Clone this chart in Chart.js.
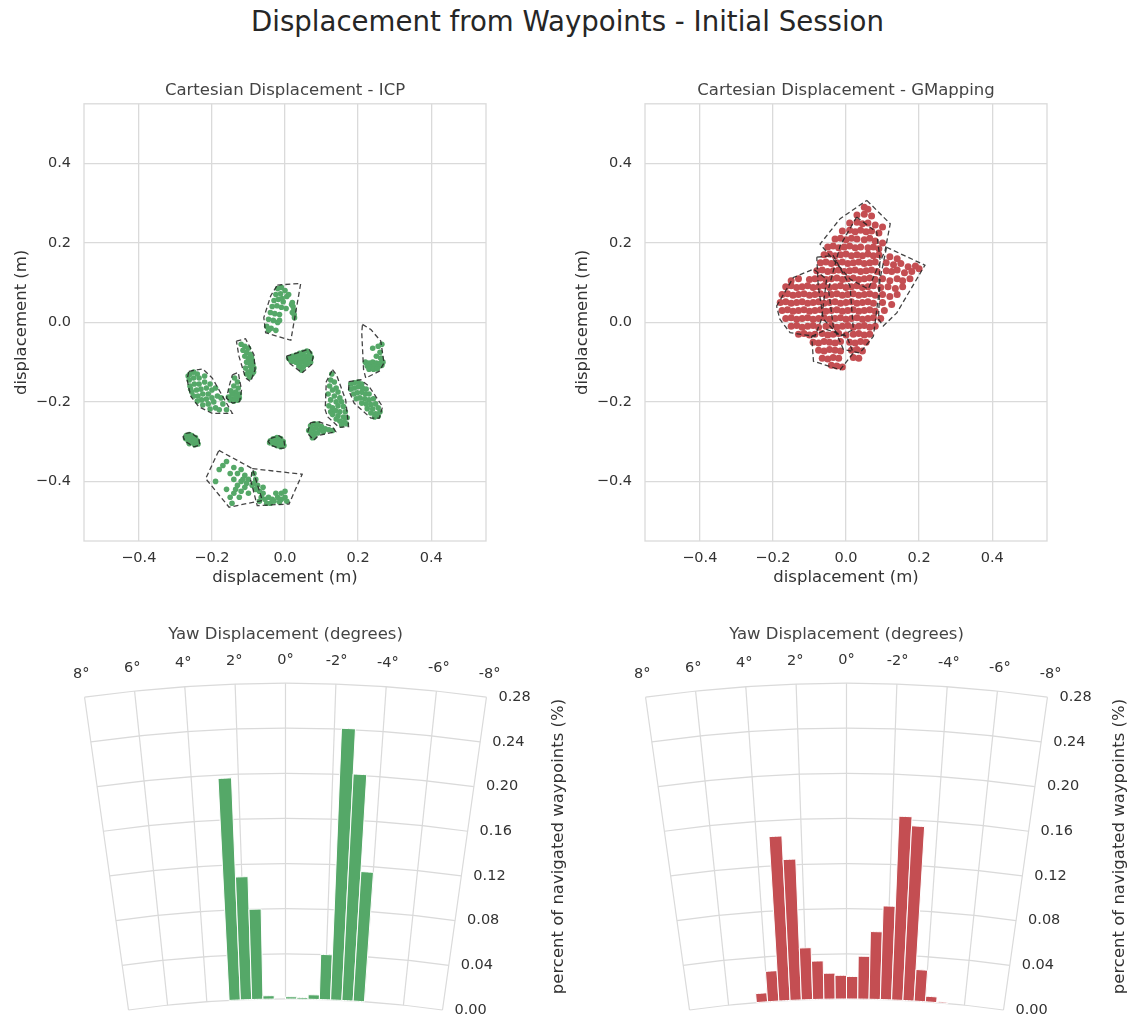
<!DOCTYPE html>
<html>
<head>
<meta charset="utf-8">
<title>Displacement from Waypoints - Initial Session</title>
<script src="https://cdn.jsdelivr.net/npm/chart.js@4.4.1/dist/chart.umd.min.js"></script>
<style>
  html, body { margin: 0; padding: 0; background: #ffffff; }
  body { width: 1135px; height: 1020px; position: relative; overflow: hidden; font-family: 'DejaVu Sans', sans-serif; }
  canvas { position: absolute; }
  #suptitle { position: absolute; left: 0; top: 5px; width: 1135px; text-align: center;
              font-size: 27.6px; line-height: 34px; color: #262626; }
</style>
</head>
<body>
<div id="suptitle">Displacement from Waypoints - Initial Session</div>
<canvas id="icpXY" width="520" height="530" style="left:0;top:70px"></canvas>
<canvas id="gmXY" width="520" height="530" style="left:561px;top:70px"></canvas>
<canvas id="icpYaw" width="574" height="420" style="left:0;top:600px"></canvas>
<canvas id="gmYaw" width="574" height="420" style="left:561px;top:600px"></canvas>
<script>
// ---------------------------------------------------------------------------
// Cartesian displacement axes
const xyTicks = [-0.4, -0.2, 0.0, 0.2, 0.4];
const xyLimit = 0.55;

// ICP: displacement samples (x, y in metres), grouped per waypoint
const icpPoints = [
  // waypoint near (0.0, 0.05)
  [-0.02,0.085],[-0.01,0.088],[0.000,0.08],[-0.025,0.07],[-0.012,0.072],[0.005,0.065],[-0.03,0.055],[-0.018,0.058],
  [-0.005,0.052],[-0.035,0.04],[-0.022,0.042],[-0.01,0.038],[0.003,0.035],[-0.04,0.025],[-0.028,0.022],[-0.015,0.02],
  [-0.045,0.008],[-0.032,0.005],[-0.02,0.0],[-0.05,-0.01],[-0.038,-0.015],[-0.025,-0.02],[-0.045,-0.02],[0.02,0.05],
  [0.022,0.04],[0.024,0.03],[0.025,0.02],[0.026,0.012],[0.018,0.045],[0.02,0.025],[-0.008,0.06],[0.01,0.07],[-0.015,0.005],
  // (0.04, -0.09)
  [0.01,-0.09],[0.02,-0.085],[0.03,-0.082],[0.04,-0.078],[0.05,-0.075],[0.06,-0.072],[0.068,-0.078],[0.072,-0.088],
  [0.07,-0.1],[0.06,-0.105],[0.05,-0.112],[0.045,-0.12],[0.038,-0.11],[0.03,-0.1],[0.02,-0.098],[0.015,-0.095],
  [0.025,-0.09],[0.035,-0.092],[0.045,-0.095],[0.055,-0.09],[0.062,-0.085],[0.065,-0.095],[0.055,-0.1],[0.042,-0.102],
  [0.05,-0.083],[0.04,-0.088],
  // (-0.1, -0.1)
  [-0.11,-0.06],[-0.1,-0.065],[-0.105,-0.075],[-0.095,-0.08],[-0.1,-0.09],[-0.09,-0.095],[-0.098,-0.1],[-0.088,-0.105],
  [-0.095,-0.11],[-0.085,-0.115],[-0.092,-0.12],[-0.1,-0.125],[-0.09,-0.13],[-0.097,-0.138],[-0.105,-0.13],[-0.108,-0.115],
  [-0.105,-0.1],[-0.11,-0.085],[-0.115,-0.07],[-0.12,-0.055],[-0.092,-0.088],[-0.086,-0.125],
  // (-0.23, -0.17)
  [-0.26,-0.13],[-0.25,-0.125],[-0.24,-0.13],[-0.262,-0.145],[-0.25,-0.14],[-0.235,-0.14],[-0.22,-0.135],[-0.26,-0.16],
  [-0.248,-0.155],[-0.235,-0.155],[-0.22,-0.15],[-0.255,-0.175],[-0.242,-0.17],[-0.23,-0.168],[-0.215,-0.165],[-0.25,-0.185],
  [-0.238,-0.185],[-0.225,-0.18],[-0.21,-0.18],[-0.24,-0.198],[-0.228,-0.195],[-0.215,-0.193],[-0.2,-0.19],[-0.225,-0.208],
  [-0.21,-0.205],[-0.195,-0.2],[-0.205,-0.218],[-0.19,-0.215],[-0.18,-0.22],[-0.2,-0.17],[-0.185,-0.185],[-0.19,-0.165],
  [-0.205,-0.155],[-0.16,-0.22],[-0.17,-0.205],[-0.175,-0.19],[-0.265,-0.135],[-0.258,-0.168],
  // (-0.14, -0.18)
  [-0.138,-0.14],[-0.13,-0.15],[-0.14,-0.16],[-0.128,-0.165],[-0.135,-0.175],[-0.145,-0.18],[-0.125,-0.18],[-0.155,-0.188],
  [-0.145,-0.192],[-0.135,-0.19],[-0.125,-0.19],[-0.14,-0.198],[-0.13,-0.196],[-0.15,-0.195],[-0.133,-0.185],[-0.148,-0.172],
  // (-0.26, -0.3)
  [-0.27,-0.285],[-0.262,-0.282],[-0.255,-0.285],[-0.245,-0.29],[-0.24,-0.298],[-0.238,-0.306],[-0.247,-0.308],[-0.255,-0.302],
  [-0.265,-0.298],[-0.272,-0.292],[-0.26,-0.293],[-0.25,-0.298],[-0.262,-0.305],[-0.248,-0.295],
  // (-0.02, -0.3)
  [-0.04,-0.298],[-0.032,-0.293],[-0.022,-0.29],[-0.012,-0.292],[-0.005,-0.3],[-0.003,-0.31],[-0.012,-0.313],[-0.022,-0.31],
  [-0.032,-0.306],[-0.042,-0.303],[-0.025,-0.3],[-0.015,-0.302],[-0.035,-0.3],
  // (0.09, -0.27)
  [0.07,-0.26],[0.08,-0.255],[0.09,-0.256],[0.1,-0.262],[0.065,-0.272],[0.075,-0.268],[0.085,-0.265],[0.095,-0.27],
  [0.11,-0.268],[0.12,-0.27],[0.13,-0.272],[0.072,-0.28],[0.082,-0.278],[0.09,-0.278],[0.08,-0.288],[0.105,-0.275],[0.075,-0.29],
  // (0.14, -0.2)
  [0.128,-0.13],[0.125,-0.145],[0.135,-0.15],[0.122,-0.16],[0.14,-0.165],[0.13,-0.17],[0.145,-0.175],[0.118,-0.18],
  [0.135,-0.185],[0.15,-0.19],[0.125,-0.195],[0.14,-0.2],[0.155,-0.2],[0.12,-0.21],[0.13,-0.215],[0.145,-0.21],
  [0.16,-0.212],[0.125,-0.225],[0.138,-0.222],[0.15,-0.225],[0.165,-0.225],[0.13,-0.232],[0.145,-0.235],[0.16,-0.238],
  [0.17,-0.24],[0.15,-0.248],[0.162,-0.25],[0.155,-0.258],[0.168,-0.255],[0.14,-0.243],
  // (0.22, -0.19)
  [0.18,-0.155],[0.19,-0.152],[0.2,-0.15],[0.21,-0.155],[0.18,-0.168],[0.19,-0.165],[0.2,-0.162],[0.212,-0.165],
  [0.222,-0.168],[0.188,-0.18],[0.198,-0.177],[0.21,-0.176],[0.22,-0.18],[0.23,-0.18],[0.195,-0.192],[0.205,-0.19],
  [0.218,-0.192],[0.23,-0.195],[0.242,-0.192],[0.21,-0.203],[0.222,-0.205],[0.235,-0.207],[0.248,-0.205],[0.225,-0.217],
  [0.24,-0.218],[0.255,-0.215],[0.235,-0.228],[0.248,-0.23],[0.26,-0.225],[0.245,-0.238],[0.255,-0.236],
  // (0.24, -0.08)
  [0.255,-0.06],[0.26,-0.075],[0.25,-0.085],[0.262,-0.09],[0.22,-0.1],[0.23,-0.102],[0.24,-0.1],[0.25,-0.102],
  [0.26,-0.103],[0.268,-0.1],[0.225,-0.11],[0.235,-0.112],[0.245,-0.11],[0.255,-0.112],[0.265,-0.108],[0.23,-0.118],
  [0.242,-0.118],[0.252,-0.117],[0.24,-0.065],[0.265,-0.055],
  // (-0.14, -0.4)
  [-0.17,-0.36],[-0.16,-0.35],[-0.14,-0.365],[-0.12,-0.37],[-0.15,-0.38],[-0.13,-0.38],[-0.11,-0.385],[-0.14,-0.395],
  [-0.12,-0.4],[-0.1,-0.395],[-0.13,-0.41],[-0.11,-0.415],[-0.09,-0.41],[-0.12,-0.425],[-0.1,-0.43],[-0.14,-0.43],
  [-0.15,-0.44],[-0.125,-0.44],[-0.16,-0.42],[-0.19,-0.4],[-0.18,-0.37],[-0.145,-0.455],[-0.105,-0.405],[-0.115,-0.395],[-0.135,-0.42],
  // (-0.04, -0.43)
  [-0.085,-0.38],[-0.08,-0.395],[-0.075,-0.41],[-0.085,-0.405],[-0.07,-0.425],[-0.06,-0.43],[-0.065,-0.44],[-0.055,-0.445],
  [-0.045,-0.44],[-0.035,-0.445],[-0.07,-0.45],[-0.05,-0.455],[-0.04,-0.455],[-0.03,-0.45],[-0.02,-0.44],[-0.01,-0.445],
  [0.0,-0.44],[0.005,-0.45],[-0.015,-0.452],[-0.01,-0.43],[0.0,-0.425],[-0.025,-0.43],[-0.06,-0.415],[-0.08,-0.42]
];

// ICP: convex hull of each waypoint's samples
const icpHulls = [
  [[-0.021,0.094],[0.043,0.098],[0.016,-0.045],[-0.053,-0.026],[-0.058,0.012],[-0.039,0.067]],
  [[0.004,-0.085],[0.066,-0.067],[0.077,-0.085],[0.073,-0.106],[0.047,-0.127],[0.011,-0.102]],
  [[-0.133,-0.047],[-0.108,-0.041],[-0.085,-0.081],[-0.082,-0.119],[-0.094,-0.149],[-0.108,-0.140],[-0.126,-0.085]],
  [[-0.263,-0.123],[-0.225,-0.117],[-0.199,-0.140],[-0.144,-0.229],[-0.199,-0.229],[-0.236,-0.212],[-0.258,-0.186],[-0.268,-0.144]],
  [[-0.144,-0.132],[-0.128,-0.126],[-0.119,-0.170],[-0.124,-0.199],[-0.144,-0.203],[-0.160,-0.191],[-0.153,-0.161]],
  [[-0.272,-0.279],[-0.258,-0.277],[-0.236,-0.292],[-0.233,-0.309],[-0.249,-0.313],[-0.272,-0.300],[-0.279,-0.288]],
  [[-0.039,-0.292],[-0.016,-0.285],[-0.003,-0.295],[0.000,-0.316],[-0.016,-0.317],[-0.039,-0.309],[-0.046,-0.299]],
  [[0.070,-0.252],[0.093,-0.250],[0.130,-0.262],[0.139,-0.275],[0.093,-0.284],[0.079,-0.296],[0.061,-0.279]],
  [[0.130,-0.119],[0.141,-0.132],[0.166,-0.195],[0.174,-0.262],[0.148,-0.264],[0.116,-0.237],[0.110,-0.220],[0.113,-0.149]],
  [[0.175,-0.149],[0.207,-0.144],[0.230,-0.161],[0.267,-0.212],[0.258,-0.241],[0.235,-0.241],[0.189,-0.203],[0.174,-0.170]],
  [[0.212,-0.005],[0.235,-0.018],[0.262,-0.047],[0.271,-0.102],[0.258,-0.123],[0.221,-0.140],[0.215,-0.119],[0.210,-0.026]],
  [[-0.181,-0.322],[-0.089,-0.368],[-0.062,-0.448],[-0.153,-0.465],[-0.217,-0.393]],
  [[-0.089,-0.368],[0.047,-0.382],[0.011,-0.457],[-0.076,-0.461],[-0.094,-0.397]]
];

// GMapping: displacement samples (x, y in metres)
const gmPoints = [
  [0.05,0.29],[0.06,0.285],
  [0.03,0.27],[0.05,0.272],[0.07,0.268],
  [0.01,0.25],[0.03,0.252],[0.045,0.248],[0.06,0.25],[0.08,0.245],[0.1,0.24],
  [-0.01,0.23],[0.01,0.232],[0.025,0.228],[0.04,0.232],[0.055,0.228],[0.07,0.23],[0.09,0.225],
  [-0.03,0.21],[-0.015,0.212],[0.0,0.208],[0.015,0.212],[0.03,0.21],[0.05,0.208],[0.065,0.212],[0.08,0.205],[0.1,0.2],
  [-0.05,0.19],[-0.035,0.192],[-0.02,0.188],[-0.005,0.19],[0.01,0.192],[0.025,0.188],[0.04,0.19],[0.06,0.188],[0.075,0.19],[0.09,0.185],
  [-0.06,0.17],[-0.045,0.172],[-0.03,0.168],[-0.015,0.17],[0.0,0.172],[0.015,0.168],[0.03,0.17],[0.045,0.168],[0.06,0.172],
  [0.075,0.168],[0.09,0.17],[0.12,0.165],[0.14,0.16],
  [-0.07,0.15],[-0.055,0.152],[-0.04,0.148],[-0.025,0.15],[-0.01,0.152],[0.005,0.148],[0.02,0.15],[0.035,0.152],[0.05,0.148],
  [0.065,0.15],[0.08,0.152],[0.11,0.15],[0.13,0.145],[0.15,0.148],[0.17,0.14],[0.19,0.142],
  [-0.08,0.13],[-0.065,0.132],[-0.05,0.128],[-0.035,0.13],[-0.02,0.132],[-0.005,0.128],[0.01,0.13],[0.025,0.132],[0.04,0.128],
  [0.055,0.13],[0.07,0.132],[0.085,0.128],[0.11,0.13],[0.125,0.128],[0.14,0.132],[0.16,0.125],[0.18,0.128],[0.2,0.135],
  [-0.15,0.105],[-0.13,0.11],[-0.1,0.108],[-0.085,0.11],[-0.07,0.112],[-0.055,0.108],[-0.04,0.11],[-0.025,0.112],[-0.01,0.108],
  [0.005,0.11],[0.02,0.112],[0.035,0.108],[0.05,0.11],[0.065,0.112],[0.08,0.108],[0.1,0.11],[0.12,0.105],[0.14,0.11],[0.155,0.105],[0.175,0.11],
  [-0.165,0.09],[-0.15,0.092],[-0.135,0.088],[-0.12,0.09],[-0.105,0.092],[-0.09,0.088],[-0.075,0.09],[-0.06,0.092],[-0.045,0.088],
  [-0.03,0.09],[-0.015,0.092],[0.0,0.088],[0.015,0.09],[0.03,0.092],[0.045,0.088],[0.06,0.09],[0.075,0.092],[0.095,0.088],
  [0.115,0.09],[0.135,0.085],[0.155,0.09],
  [-0.175,0.07],[-0.16,0.072],[-0.145,0.068],[-0.13,0.07],[-0.115,0.072],[-0.1,0.068],[-0.085,0.07],[-0.07,0.072],[-0.055,0.068],
  [-0.04,0.07],[-0.025,0.072],[-0.01,0.068],[0.005,0.07],[0.02,0.072],[0.035,0.068],[0.05,0.07],[0.065,0.072],[0.08,0.068],
  [0.1,0.07],[0.12,0.065],[0.14,0.07],
  [-0.18,0.05],[-0.165,0.052],[-0.15,0.048],[-0.135,0.05],[-0.12,0.052],[-0.105,0.048],[-0.09,0.05],[-0.075,0.052],[-0.06,0.048],
  [-0.045,0.05],[-0.03,0.052],[-0.015,0.048],[0.0,0.05],[0.015,0.052],[0.03,0.048],[0.045,0.05],[0.06,0.052],[0.075,0.048],
  [0.1,0.05],[0.125,0.045],
  [-0.175,0.03],[-0.16,0.032],[-0.145,0.028],[-0.13,0.03],[-0.115,0.032],[-0.1,0.028],[-0.085,0.03],[-0.07,0.032],[-0.055,0.028],
  [-0.04,0.03],[-0.025,0.032],[-0.01,0.028],[0.005,0.03],[0.02,0.032],[0.035,0.028],[0.05,0.03],[0.065,0.032],[0.08,0.028],[0.105,0.03],
  [-0.165,0.01],[-0.15,0.012],[-0.135,0.008],[-0.12,0.01],[-0.105,0.012],[-0.09,0.008],[-0.075,0.01],[-0.06,0.012],[-0.045,0.008],
  [-0.03,0.01],[-0.015,0.012],[0.0,0.008],[0.015,0.01],[0.03,0.012],[0.045,0.008],[0.06,0.01],[0.075,0.012],[0.095,0.01],
  [-0.15,-0.01],[-0.135,-0.008],[-0.12,-0.012],[-0.105,-0.01],[-0.09,-0.008],[-0.075,-0.012],[-0.055,-0.01],[-0.04,-0.008],
  [-0.025,-0.012],[-0.01,-0.01],[0.005,-0.008],[0.02,-0.012],[0.035,-0.01],[0.05,-0.008],[0.065,-0.012],[0.08,-0.01],
  [-0.13,-0.03],[-0.115,-0.028],[-0.1,-0.032],[-0.085,-0.03],[-0.065,-0.028],[-0.05,-0.032],[-0.035,-0.03],[-0.02,-0.028],
  [0.0,-0.032],[0.02,-0.03],[0.035,-0.028],[0.05,-0.032],[0.065,-0.03],
  [-0.09,-0.05],[-0.075,-0.052],[-0.06,-0.048],[-0.045,-0.05],[-0.03,-0.052],[-0.015,-0.048],[0.01,-0.05],[0.025,-0.052],[0.04,-0.048],[0.055,-0.05],
  [-0.075,-0.07],[-0.06,-0.072],[-0.045,-0.068],[-0.03,-0.07],[-0.015,-0.072],[0.015,-0.07],[0.03,-0.068],[0.045,-0.072],
  [-0.065,-0.09],[-0.05,-0.092],[-0.035,-0.088],[-0.02,-0.09],[0.02,-0.088],[0.035,-0.09],
  [-0.04,-0.108],[-0.025,-0.11],[-0.01,-0.112]
];

// GMapping: convex hull of each waypoint's samples
const gmHulls = [
  [[0.057,0.307],[0.121,0.248],[0.107,0.181],[0.061,0.084],[0.011,0.109],[-0.044,0.168],[-0.071,0.197],[-0.016,0.261]],
  [[0.111,0.189],[0.216,0.144],[0.139,0.024],[0.102,-0.009],[0.089,0.008],[0.093,0.109]],
  [[-0.190,0.041],[-0.144,0.113],[-0.089,0.134],[-0.053,0.109],[-0.067,0.008],[-0.085,-0.035],[-0.153,-0.026],[-0.181,0.008]],
  [[0.029,0.265],[0.084,0.227],[0.093,0.159],[0.089,0.067],[0.075,-0.035],[0.038,-0.077],[-0.007,-0.068],[-0.035,-0.009],[-0.048,0.084],[-0.016,0.193]],
  [[-0.094,-0.035],[-0.053,-0.018],[0.002,-0.035],[0.020,-0.077],[-0.016,-0.119],[-0.089,-0.098]],
  [[-0.080,0.164],[-0.035,0.168],[0.011,0.092],[0.020,-0.018],[-0.016,-0.035],[-0.062,0.008],[-0.076,0.092]]
];

// ---------------------------------------------------------------------------
// Yaw displacement histograms (bins of 0.01 rad, share of navigated waypoints)
const yawAngleTicksDeg = [8, 6, 4, 2, 0, -2, -4, -6, -8];
const yawShareTicks = [0.00, 0.04, 0.08, 0.12, 0.16, 0.20, 0.24, 0.28];
const yawBinWidthRad = 0.01;

const icpYawBinsRad = [0.045, 0.035, 0.025, 0.015, 0.005, -0.005, -0.015, -0.025, -0.035, -0.045, -0.055, -0.065];
const icpYawShare   = [0.197, 0.109, 0.080, 0.003, 0.000, 0.002, 0.0015, 0.004, 0.040, 0.241, 0.201, 0.115];

const gmYawBinsRad = [0.075, 0.065, 0.055, 0.045, 0.035, 0.025, 0.015, 0.005, -0.005, -0.015, -0.025, -0.035, -0.045, -0.055, -0.065, -0.075, -0.085];
const gmYawShare   = [0.008, 0.027, 0.146, 0.125, 0.046, 0.034, 0.023, 0.021, 0.020, 0.038, 0.060, 0.083, 0.163, 0.155, 0.028, 0.005, 0.001];

// ---------------------------------------------------------------------------
const GREEN = '#55a868';
const RED = '#c44e52';
const GRID = '#dadada';
const TEXT = '#333333';
Chart.defaults.font.family = "'DejaVu Sans', sans-serif";
Chart.defaults.color = TEXT;

const toRad = d => d * Math.PI / 180;
const fmtAxis = v => (Math.abs(v) < 1e-9 ? 0 : v).toFixed(1).replace('-', '\u2212');

// Box around the plotting area of the cartesian panels
const frame = {
  id: 'frame',
  beforeDatasetsDraw(chart) {
    const {ctx, chartArea: a} = chart;
    ctx.save();
    ctx.strokeStyle = GRID;
    ctx.lineWidth = 1.3;
    ctx.strokeRect(a.left, a.top, a.right - a.left, a.bottom - a.top);
    ctx.restore();
  }
};

function cartesianPanel(id, title, points, hulls, color, radius) {
  const datasets = hulls.map(h => ({
    data: h.concat([h[0]]).map(p => ({x: p[0], y: p[1]})),
    showLine: true, tension: 0, fill: false,
    borderColor: 'rgba(35,35,35,0.85)', borderWidth: 1.3, borderDash: [5, 3],
    pointRadius: 0, order: 0
  }));
  datasets.push({
    data: points.map(p => ({x: p[0], y: p[1]})),
    backgroundColor: color, borderWidth: 0, pointRadius: radius, order: 1
  });
  const axis = (isX) => ({
    type: 'linear', min: -xyLimit, max: xyLimit,
    afterBuildTicks: s => { s.ticks = xyTicks.map(v => ({value: v})); },
    afterFit: s => { if (isX) s.height = 59; else s.width = 84; },
    grid: {color: GRID, lineWidth: 1.3, drawTicks: false},
    border: {display: false},
    ticks: {padding: isX ? 9 : 13, font: {size: 14.5}, color: TEXT, maxRotation: 0, autoSkip: false, callback: fmtAxis},
    title: {display: true, text: 'displacement (m)', font: {size: 16.5}, color: TEXT,
            padding: isX ? {top: 0, bottom: 12} : {top: 12, bottom: 0}}
  });
  return new Chart(document.getElementById(id), {
    type: 'scatter',
    data: {datasets},
    options: {
      responsive: false, animation: false, events: [],
      layout: {padding: {top: 0, right: 34, bottom: 0, left: 0}},
      plugins: {
        legend: {display: false}, tooltip: {enabled: false},
        title: {display: true, fullSize: false, text: title, font: {size: 16.5, weight: 'normal'}, color: '#444444',
                padding: {top: 11, bottom: 3}}
      },
      scales: {x: axis(true), y: axis(false)}
    },
    plugins: [frame]
  });
}

// ---------------------------------------------------------------------------
// Annular-sector bars: each bin becomes an arc element centred on the
// polar origin, which sits at data (0, 0) of the hidden cartesian scales.
class SectorBarController extends Chart.DatasetController {
  update(mode) {
    const meta = this._cachedMeta;
    this.updateElements(meta.data, 0, meta.data.length, mode);
  }
  updateElements(arcs, start, count, mode) {
    const {xScale, yScale} = this._cachedMeta;
    const ds = this.getDataset();
    const cx = xScale.getPixelForValue(0);
    const cy = yScale.getPixelForValue(0);
    const unit = xScale.getPixelForValue(1) - cx;
    const half = ds.binWidth / 2;
    for (let i = start; i < start + count; i++) {
      const p = this.getParsed(i);
      const startAngle = -Math.PI / 2 - (p.x + half);
      const endAngle = -Math.PI / 2 - (p.x - half);
      this.updateElement(arcs[i], i, {
        x: cx, y: cy,
        innerRadius: unit * ds.radialOrigin,
        outerRadius: unit * (ds.radialOrigin + p.y),
        startAngle, endAngle, circumference: endAngle - startAngle,
        options: this.resolveDataElementOptions(i, mode)
      }, mode);
    }
  }
}
SectorBarController.id = 'sectorBar';
SectorBarController.defaults = {datasetElementType: false, dataElementType: 'arc'};
Chart.register(SectorBarController);

// Geometry of the yaw panels (pixels inside each canvas)
const YAW_ORIGIN = 1.0;       // radial offset of the zero circle, in share units
const YAW_UNIT = 1128;        // pixels per share unit
const YAW_CX = 285.5;         // pole, horizontal
const YAW_CY = 1527;          // pole, vertical (below the canvas)
const YAW_W = 574, YAW_H = 420;

const sectorGrid = {
  id: 'sectorGrid',
  beforeDatasetsDraw(chart) {
    const {ctx, scales: {x, y}} = chart;
    const cx = x.getPixelForValue(0), cy = y.getPixelForValue(0);
    const unit = x.getPixelForValue(1) - cx;
    const tMax = toRad(Math.max(...yawAngleTicksDeg));
    const rTop = Math.max(...yawShareTicks);
    ctx.save();
    ctx.strokeStyle = GRID;
    ctx.lineWidth = 1.2;
    yawShareTicks.forEach(r => {
      ctx.beginPath();
      ctx.arc(cx, cy, unit * (YAW_ORIGIN + r), -Math.PI / 2 - tMax, -Math.PI / 2 + tMax);
      ctx.stroke();
    });
    yawAngleTicksDeg.forEach(t => {
      const a = -Math.PI / 2 - toRad(t);
      const r0 = unit * YAW_ORIGIN, r1 = unit * (YAW_ORIGIN + rTop);
      ctx.beginPath();
      ctx.moveTo(cx + r0 * Math.cos(a), cy + r0 * Math.sin(a));
      ctx.lineTo(cx + r1 * Math.cos(a), cy + r1 * Math.sin(a));
      ctx.stroke();
    });
    ctx.restore();
  },
  afterDatasetsDraw(chart) {
    const {ctx, scales: {x, y}} = chart;
    const cx = x.getPixelForValue(0), cy = y.getPixelForValue(0);
    const unit = x.getPixelForValue(1) - cx;
    const tMaxDeg = Math.max(...yawAngleTicksDeg);
    const rTop = Math.max(...yawShareTicks);
    const rOuter = unit * (YAW_ORIGIN + rTop);
    const rInner = unit * YAW_ORIGIN;
    ctx.save();
    ctx.fillStyle = TEXT;
    ctx.font = "14.5px 'DejaVu Sans'";
    ctx.textAlign = 'center';
    ctx.textBaseline = 'middle';
    yawAngleTicksDeg.forEach(t => {
      const a = -Math.PI / 2 - toRad(t);
      const R = rOuter + 23;
      ctx.fillText(t + '\u00b0', cx + R * Math.cos(a), cy + R * Math.sin(a));
    });
    ctx.textAlign = 'left';
    const aEdge = -Math.PI / 2 + toRad(tMaxDeg);
    yawShareTicks.forEach(r => {
      const R = unit * (YAW_ORIGIN + r);
      ctx.fillText(r.toFixed(2), cx + R * Math.cos(aEdge) + 12, cy + R * Math.sin(aEdge));
    });
    ctx.font = "16.5px 'DejaVu Sans'";
    ctx.textAlign = 'center';
    ctx.fillStyle = '#444444';
    ctx.fillText('Yaw Displacement (degrees)', cx, cy - rOuter - 48);
    ctx.fillStyle = TEXT;
    const top = cy - rOuter;
    const bottom = cy - rInner * Math.cos(toRad(tMaxDeg));
    ctx.translate(cx + rOuter * Math.sin(toRad(tMaxDeg)) + 72, (top + bottom) / 2);
    ctx.rotate(-Math.PI / 2);
    ctx.fillText('percent of navigated waypoints (%)', 0, 0);
    ctx.restore();
  }
};

function yawPanel(id, bins, share, color) {
  return new Chart(document.getElementById(id), {
    type: 'scatter',
    data: {
      datasets: [{
        type: 'sectorBar',
        data: bins.map((t, i) => ({x: t, y: share[i]})),
        backgroundColor: color,
        borderColor: '#ffffff',
        borderWidth: c => (c.raw && c.raw.y > 0 ? 1 : 0),
        radialOrigin: YAW_ORIGIN,
        binWidth: yawBinWidthRad
      }]
    },
    options: {
      responsive: false, animation: false, events: [],
      layout: {padding: 0},
      plugins: {legend: {display: false}, tooltip: {enabled: false}},
      scales: {
        x: {type: 'linear', display: false, min: -YAW_CX / YAW_UNIT, max: (YAW_W - YAW_CX) / YAW_UNIT},
        y: {type: 'linear', display: false, min: (YAW_CY - YAW_H) / YAW_UNIT, max: YAW_CY / YAW_UNIT}
      }
    },
    plugins: [sectorGrid]
  });
}

cartesianPanel('icpXY', 'Cartesian Displacement - ICP', icpPoints, icpHulls, GREEN, 2.8);
cartesianPanel('gmXY', 'Cartesian Displacement - GMapping', gmPoints, gmHulls, RED, 3.5);
yawPanel('icpYaw', icpYawBinsRad, icpYawShare, GREEN);
yawPanel('gmYaw', gmYawBinsRad, gmYawShare, RED);
</script>
</body>
</html>
